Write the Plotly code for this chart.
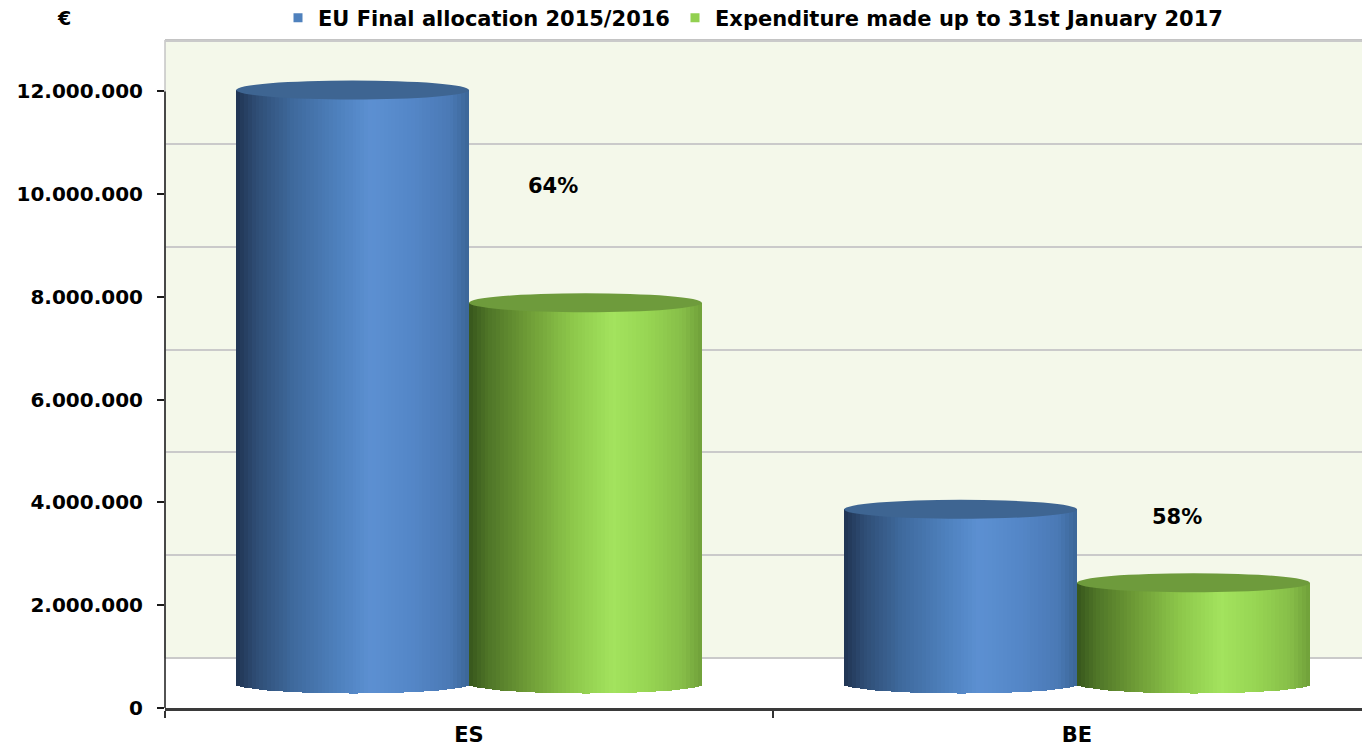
import numpy as np
import plotly.graph_objects as go

# ---------------- data ----------------
categories = ["ES", "BE"]
allocation = [11_560_000, 3_400_000]          # EU Final allocation 2015/2016
expenditure = [7_420_000, 1_970_000]          # Expenditure made up to 31st January 2017
pct_labels = ["64%", "58%"]
series_names = ["EU Final allocation 2015/2016",
                "Expenditure made up to 31st January 2017"]
y_tick_values = [0, 2_000_000, 4_000_000, 6_000_000, 8_000_000, 10_000_000, 12_000_000]

# ---------------- style ----------------
# the page adds an 8px body margin, so the figure is drawn 8px right / down
W, H = 1362, 738
M_L, M_R, M_T, M_B = 157, 0, 32, 38
PLOT_W = W - M_L - M_R
PLOT_H = H - M_T - M_B
Y_SPAN = 13_000_000
PPU = PLOT_H / Y_SPAN                 # pixels per euro
CAT_PX = 608                          # pixels per category
X_RANGE = [-0.5, -0.5 + PLOT_W / CAT_PX]
MID_OFF_PX = 24                       # bar plane offset (3D depth)
WALL_OFF_PX = 50                      # back wall offset
ELL_PX = 9.5                          # half-height of cylinder ellipses
h = ELL_PX / PPU

FONT = "DejaVu Sans"
WALL = "#F4F8EA"

blue_stops = [(0.0, "#1F3352"), (0.08, "#2E4C73"), (0.25, "#3F6A9E"), (0.45, "#4F82BF"),
              (0.58, "#5C90D2"), (0.75, "#5487C8"), (0.92, "#4A79B5"), (1.0, "#3C6697")]
green_stops = [(0.0, "#37561C"), (0.08, "#4E7427"), (0.25, "#6E9B36"), (0.45, "#8EC94B"),
               (0.62, "#A3E35E"), (0.78, "#96D452"), (0.92, "#86BD48"), (1.0, "#70A03A")]
top_colors = ["#3E6592", "#6E9B3C"]
legend_colors = ["#4F81BD", "#92D050"]
bar_offsets = [-0.383, 0.0]
BAR_W = 0.383
N_STRIPS = 60


def hex2rgb(c):
    c = c.lstrip("#")
    return [int(c[i:i + 2], 16) for i in (0, 2, 4)]


def grad(stops, t):
    for (t0, c0), (t1, c1) in zip(stops[:-1], stops[1:]):
        if t0 <= t <= t1:
            f = (t - t0) / (t1 - t0) if t1 > t0 else 0
            a, b = hex2rgb(c0), hex2rgb(c1)
            return "rgb(%d,%d,%d)" % tuple(round(a[k] + (b[k] - a[k]) * f) for k in range(3))
    return stops[-1][1]


fig = go.Figure()

# invisible trace to activate the back-wall axis
fig.add_trace(go.Scatter(x=categories, y=[0, 0], yaxis="y3", mode="markers",
                         marker=dict(opacity=0), showlegend=False, hoverinfo="skip"))

series = [allocation, expenditure]
stops_list = [blue_stops, green_stops]
sw = BAR_W / N_STRIPS
for s, vals in enumerate(series):
    for j in range(N_STRIPS):
        t = (j + 0.5) / N_STRIPS
        u = 2 * t - 1
        base = -h * np.sqrt(max(0.0, 1 - u * u))
        fig.add_trace(go.Bar(
            x=categories, y=[v - base for v in vals], base=base,
            width=sw * (1.3 if j < N_STRIPS - 1 else 1.0),
            offset=bar_offsets[s] + j * sw,
            marker=dict(color=grad(stops_list[s], t), line=dict(width=0)),
            yaxis="y2", showlegend=False, hoverinfo="skip"))

# legend entries
for s in range(2):
    fig.add_trace(go.Scatter(x=[None], y=[None], mode="markers", name=series_names[s],
                             marker=dict(symbol="square", size=9, color=legend_colors[s])))

shapes = []
# floor (white) below back wall
shapes.append(dict(type="rect", xref="paper", yref="paper", x0=0, x1=1, y0=0,
                   y1=WALL_OFF_PX / PLOT_H, fillcolor="white", line=dict(width=0), layer="below"))
# wall top edge and left edge
shapes.append(dict(type="line", xref="paper", yref="paper", x0=0, x1=1, y0=1, y1=1,
                   line=dict(color="#C4C4C4", width=2), layer="below"))
shapes.append(dict(type="line", xref="paper", yref="paper", x0=0, x1=0,
                   y0=WALL_OFF_PX / PLOT_H, y1=1, line=dict(color="#C4C4C4", width=1.5), layer="below"))
# front y axis line
shapes.append(dict(type="line", xref="paper", yref="y", x0=0, x1=0, y0=0, y1=y_tick_values[-1],
                   line=dict(color="#1A1A1A", width=1.5), layer="above"))
# cylinder tops
for s, vals in enumerate(series):
    for i, v in enumerate(vals):
        shapes.append(dict(type="circle", xref="x", yref="y2",
                           x0=i + bar_offsets[s], x1=i + bar_offsets[s] + BAR_W,
                           y0=v - h, y1=v + h, fillcolor=top_colors[s],
                           line=dict(width=0), layer="above"))

annotations = [dict(text="€", xref="paper", yref="paper", x=-101 / PLOT_W,
                    y=1 + 22 / PLOT_H, xanchor="center", yanchor="middle", showarrow=False,
                    font=dict(family=FONT, size=19, color="black", weight="bold"))]
label_pos = [(0.138, 10_160_000), (1.164, 3_720_000)]
for (lx, ly), txt in zip(label_pos, pct_labels):
    annotations.append(dict(text=txt, xref="x", yref="y", x=lx, y=ly, showarrow=False,
                            xanchor="center", yanchor="middle",
                            font=dict(family=FONT, size=21, color="black", weight="bold")))

fig.update_layout(
    width=W, height=H,
    margin=dict(l=M_L, r=M_R, t=M_T, b=M_B, pad=0, autoexpand=False),
    paper_bgcolor="white", plot_bgcolor=WALL,
    separators=",.",
    barmode="overlay", bargap=0,
    showlegend=True,
    legend=dict(orientation="h", xref="paper", x=113 / PLOT_W, xanchor="left",
                yref="container", y=1 - 10 / H, yanchor="middle", itemwidth=30,
                font=dict(family=FONT, size=21, color="black", weight="bold"),
                bgcolor="rgba(0,0,0,0)"),
    xaxis=dict(type="category", range=X_RANGE, tickson="boundaries", ticks="outside",
               ticklen=7, tickcolor="#333333", tickwidth=1.5, showgrid=False, zeroline=False,
               showline=True, linecolor="#3A3A3A", linewidth=2.5, ticklabelstandoff=6,
               automargin=False,
               tickfont=dict(family=FONT, size=21, color="black", weight="bold")),
    yaxis=dict(range=[0, Y_SPAN], tickvals=y_tick_values, tickformat=",.0f",
               ticks="outside", ticklen=7, tickcolor="#1A1A1A", tickwidth=1.5,
               showgrid=False, zeroline=False, showline=False, ticklabelstandoff=10,
               automargin=False,
               tickfont=dict(family=FONT, size=20, color="black", weight="bold")),
    yaxis2=dict(overlaying="y", range=[-MID_OFF_PX / PPU, Y_SPAN - MID_OFF_PX / PPU],
                visible=False),
    yaxis3=dict(overlaying="y", range=[-WALL_OFF_PX / PPU, Y_SPAN - WALL_OFF_PX / PPU],
                tick0=0, dtick=2_000_000, showgrid=True, gridcolor="#CACACA", gridwidth=1.5,
                zeroline=False, showticklabels=False, ticks="", showline=False),
    shapes=shapes, annotations=annotations,
)

fig.write_html("out.html")
